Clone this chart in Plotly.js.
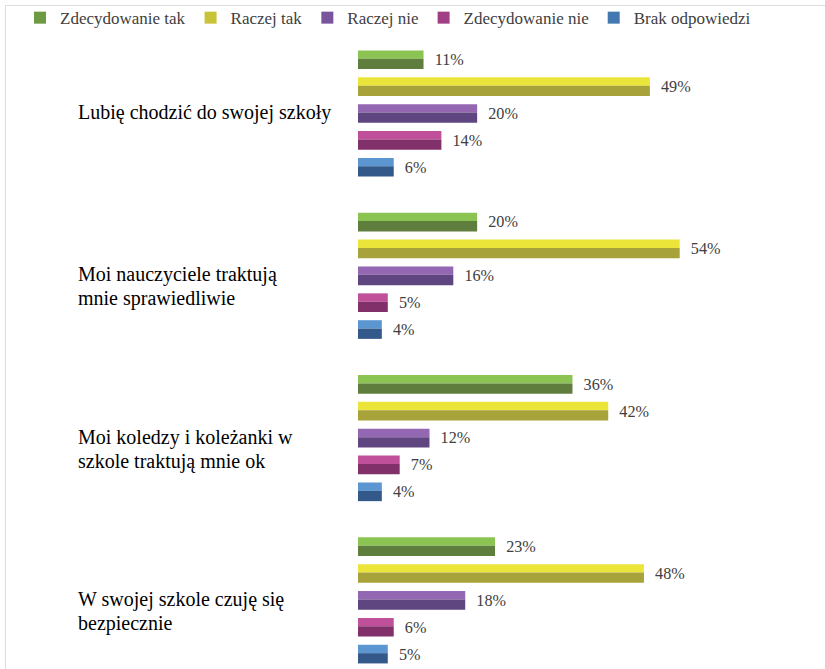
<!DOCTYPE html>
<html>
<head>
<meta charset="utf-8">
<script src="https://cdn.plot.ly/plotly-3.0.1.min.js"></script>
<style>
html,body{margin:0;padding:0;background:#fff;overflow:hidden;}
#chart{position:absolute;left:0;top:0;width:825px;height:669px;}
#frame{position:absolute;left:5px;top:5px;width:900px;height:700px;border-left:1.5px solid #dedede;border-top:1.5px solid #dedede;pointer-events:none;}
</style>
</head>
<body>
<div id="chart"></div>
<div id="frame"></div>
<script>
const categories = [
  "Lubię chodzić do swojej szkoły",
  "Moi nauczyciele traktują<br>mnie sprawiedliwie",
  "Moi koledzy i koleżanki w<br>szkole traktują mnie ok",
  "W swojej szkole czuję się<br>bezpiecznie"
];
const seriesNames = ["Zdecydowanie tak", "Raczej tak", "Raczej nie", "Zdecydowanie nie", "Brak odpowiedzi"];
const zdecydowanieTak = [11, 20, 36, 23];
const raczejTak = [49, 54, 42, 48];
const raczejNie = [20, 16, 12, 18];
const zdecydowanieNie = [14, 5, 7, 6];
const brakOdpowiedzi = [6, 4, 4, 5];
const seriesValues = [zdecydowanieTak, raczejTak, raczejNie, zdecydowanieNie, brakOdpowiedzi];

const lightColors = ["#8cc453", "#ebe53a", "#9467b3", "#c0509a", "#5b96d0"];
const darkColors  = ["#5f7d3c", "#a7a23a", "#5f4680", "#82306a", "#32598a"];
const legendColors = ["#6f9a44", "#c9c337", "#7a559c", "#a03f85", "#4478b0"];

const SERIF = "Liberation Serif";
const yIdx = categories.map((c, i) => i);
const step = 0.1656;
const thick = 0.115;
const traces = [];
seriesValues.forEach((vals, s) => {
  const c = (s - 2) * step;
  traces.push({
    type: 'bar', orientation: 'h', x: vals, y: yIdx,
    offset: c - thick / 2, width: thick * 0.45,
    marker: {color: lightColors[s], line: {width: 0}},
    showlegend: false, hoverinfo: 'skip', legendgroup: 'g' + s
  });
  traces.push({
    type: 'bar', orientation: 'h', x: vals, y: yIdx,
    offset: c - thick / 2 + thick * 0.45, width: thick * 0.55,
    marker: {color: darkColors[s], line: {width: 0}},
    showlegend: false, hoverinfo: 'skip', legendgroup: 'g' + s
  });
  traces.push({
    type: 'bar', orientation: 'h', x: vals, y: yIdx, name: seriesNames[s],
    offset: c - thick / 2, width: thick,
    marker: {color: 'rgba(0,0,0,0)', line: {width: 0}},
    texttemplate: '\u00a0\u00a0%{x}%', textposition: 'outside', cliponaxis: false,
    textfont: {family: SERIF, size: 16.5, color: '#404040'},
    showlegend: false, legendgroup: 'g' + s
  });
});
seriesNames.forEach((n, s) => {
  traces.push({
    type: 'bar', orientation: 'h', x: [null], y: [null], name: n,
    marker: {color: legendColors[s]}, showlegend: true, legendgroup: 'g' + s
  });
});

const annotations = [];
categories.forEach((c, i) => {
  c.split('<br>').forEach((line, j) => {
    annotations.push({
      xref: 'paper', yref: 'y', x: (76 - 358) / 417, y: i,
      xanchor: 'left', yanchor: 'middle', yshift: 1 - 24 * j, align: 'left',
      text: line, showarrow: false,
      font: {family: SERIF, size: 20, color: '#000'}
    });
  });
});

const layout = {
  width: 825, height: 669,
  margin: {l: 358, r: 50, t: 30, b: 0},
  paper_bgcolor: '#fff', plot_bgcolor: '#fff',
  barmode: 'overlay',
  xaxis: {range: [0, 70], showgrid: false, zeroline: false, showticklabels: false, showline: false, ticks: ''},
  yaxis: {range: [3.423, -0.49], showgrid: false, zeroline: false, showticklabels: false, showline: false, ticks: '', type: 'linear'},
  showlegend: true,
  legend: {orientation: 'h', x: (20 - 358) / 417, xanchor: 'left', y: (669 - 14) / 639, yanchor: 'middle',
    font: {family: SERIF, size: 17, color: '#404040'},
    itemwidth: 30, traceorder: 'normal', tracegroupgap: 0, bgcolor: 'rgba(0,0,0,0)'},
  annotations: annotations,
  font: {family: SERIF}
};

Plotly.newPlot('chart', traces, layout, {displayModeBar: false, staticPlot: true});
</script>
</body>
</html>
